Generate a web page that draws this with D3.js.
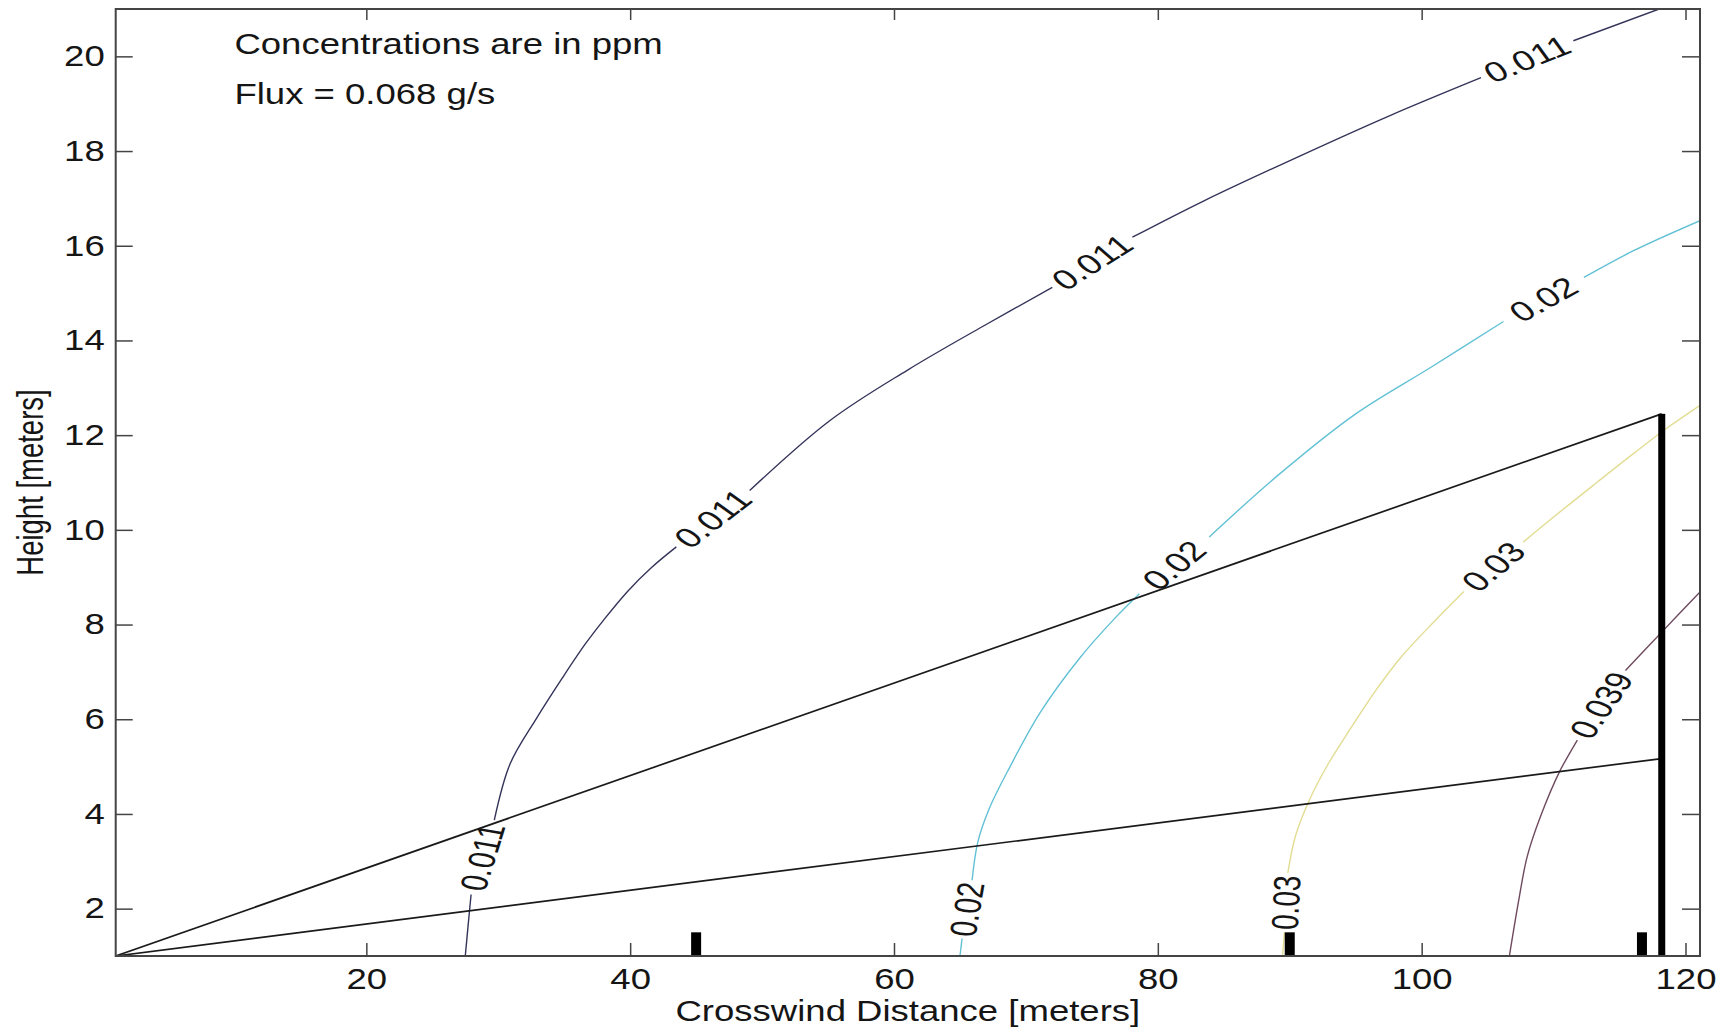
<!DOCTYPE html>
<html><head><meta charset="utf-8">
<script src="https://cdn.jsdelivr.net/npm/d3@7"></script>
<style>body{margin:0;background:#fff}svg{display:block}text{font-family:"Liberation Sans",Arial,Helvetica,sans-serif;fill:#151515}</style>
</head><body>
<svg id="chart" width="1727" height="1029"></svg>
<script>
// ---------- data ----------
const xTicks = [20, 40, 60, 80, 100, 120];
const yTicks = [2, 4, 6, 8, 10, 12, 14, 16, 18, 20];
const xDomain = [1, 121.1];
const yDomain = [1, 21];

const levels = ["0.011", "0.02", "0.03", "0.039"];
const levelColors = ["#34345a", "#62c1d5", "#e2dd92", "#6e4a5e"];

const contour011 = [[27.5,1.0],[27.7,1.6],[27.94,2.3],[29.7,3.87],[30.9,5.06],[32.9,6.02],[34.9,6.89],[36.6,7.59],[38.0,8.1],[39.8,8.7],[41.6,9.2],[43.5,9.64],[49.06,10.83],[55.15,12.31],[61.0,13.37],[66.75,14.3],[72.0,15.12],[78.07,16.18],[83.5,16.95],[90.8,17.9],[97.6,18.75],[104.5,19.55],[111.5,20.33],[118.0,21.0]];
const gaps011 = [2, 11, 16, 21];

const contour02 = [[65.0,1.0],[65.16,1.37],[65.92,2.6],[66.35,3.4],[67.2,4.1],[68.8,5.0],[71.1,6.15],[74.1,7.3],[76.7,8.12],[78.6,8.65],[83.9,9.85],[89.1,11.15],[95.0,12.45],[100.8,13.45],[106.2,14.4],[112.3,15.33],[116.1,15.9],[121.1,16.53]];
const gaps02 = [1, 9, 14];

const contour03 = [[89.45,1.0],[89.6,1.5],[89.85,2.75],[90.45,3.55],[91.5,4.3],[92.9,5.05],[94.6,5.8],[96.5,6.6],[98.4,7.3],[100.9,8.05],[103.2,8.7],[107.7,9.74],[110.0,10.27],[113.05,10.95],[116.1,11.62],[118.6,12.15],[121.1,12.63]];
const gaps03 = [1, 10];

const contour039 = [[106.65,1.0],[107.36,2.18],[108.0,3.1],[109.0,3.94],[110.5,4.92],[111.8,5.56],[115.45,7.03],[118.2,7.84],[121.1,8.69]];
const gaps039 = [5];

// sight lines from the source to the tower
const rayOrigin = [1, 1];
const rayEnds = [[118.2, 12.45], [118.2, 5.17]];
// tower and ground sensors
const towerX = 118.2, towerTop = 12.45;
const sensorX = [45, 90, 116.7];
const sensorTop = 1.5;

const notes = ["Concentrations are in ppm", "Flux = 0.068 g/s"];
const noteX = 10;
const noteY = [20.27, 19.21];
const xTitle = "Crosswind Distance [meters]";
const yTitle = "Height [meters]";

// ---------- layout ----------
const SX = 1.26;          // horizontal stretch of the original raster's lettering
const FS = 29;
const LSX = 1.35, LFS = 28;
const margin = {left: 115.7, right: 27, top: 9, bottom: 73};
const W = 1727, H = 1029;
const svg = d3.select("#chart");
const x = d3.scaleLinear().domain(xDomain).range([margin.left, W - margin.right]);
const y = d3.scaleLinear().domain(yDomain).range([H - margin.bottom, margin.top]);
const x0 = x.range()[0], x1 = x.range()[1], y0 = y.range()[0], y1 = y.range()[1];

svg.append("rect").attr("width", W).attr("height", H).attr("fill", "#fff");

svg.append("defs").append("clipPath").attr("id", "plotClip")
  .append("rect").attr("x", x0).attr("y", y1).attr("width", x1 - x0).attr("height", y0 - y1);

const plot = svg.append("g").attr("clip-path", "url(#plotClip)");

// contours
const contours = [
  {pts: contour011, gaps: gaps011, label: levels[0], color: levelColors[0]},
  {pts: contour02, gaps: gaps02, label: levels[1], color: levelColors[1]},
  {pts: contour03, gaps: gaps03, label: levels[2], color: levelColors[2]},
  {pts: contour039, gaps: gaps039, label: levels[3], color: levelColors[3]}
];
const line = d3.line().x(d => x(d[0])).y(d => y(d[1])).curve(d3.curveCatmullRom.alpha(0.5));

contours.forEach(c => {
  let start = 0;
  const pieces = [];
  c.gaps.forEach(g => { pieces.push(c.pts.slice(start, g + 1)); start = g + 1; });
  pieces.push(c.pts.slice(start));
  pieces.forEach(p => {
    if (p.length < 2) return;
    plot.append("path").attr("d", line(p)).attr("fill", "none")
      .attr("stroke", c.color).attr("stroke-width", 1.4);
  });
});

// rays
rayEnds.forEach(e => {
  plot.append("line")
    .attr("x1", x(rayOrigin[0])).attr("y1", y(rayOrigin[1]))
    .attr("x2", x(e[0])).attr("y2", y(e[1]))
    .attr("stroke", "#1a1a1a").attr("stroke-width", 1.7);
});

// tower
plot.append("rect")
  .attr("x", x(towerX) - 3.5).attr("y", y(towerTop))
  .attr("width", 7).attr("height", y(1) - y(towerTop)).attr("fill", "#000");

// sensors
plot.selectAll(".sensor").data(sensorX).join("rect").attr("class", "sensor")
  .attr("x", d => x(d) - 5).attr("y", y(sensorTop))
  .attr("width", 10).attr("height", y(1) - y(sensorTop)).attr("fill", "#000");

// contour labels
contours.forEach(c => {
  c.gaps.forEach(g => {
    const a = c.pts[g], b = c.pts[g + 1];
    const ax = x(a[0]), ay = y(a[1]), bx = x(b[0]), by = y(b[1]);
    const cx = (ax + bx) / 2, cy = (ay + by) / 2;
    const th = Math.atan2(by - ay, (bx - ax) / LSX) * 180 / Math.PI;
    svg.append("text")
      .attr("transform", `translate(${cx},${cy}) scale(${LSX},1) rotate(${th})`)
      .attr("text-anchor", "middle").attr("dominant-baseline", "central")
      .attr("font-size", LFS).text(c.label);
  });
});

// axes (MATLAB box with inward ticks)
const axisStyle = g => {
  g.select(".domain").remove();
  g.selectAll(".tick line").attr("stroke", "#444").attr("stroke-width", 1.5);
};
svg.append("g").attr("transform", `translate(0,${y0})`)
  .call(d3.axisBottom(x).tickValues(xTicks).tickSize(-13).tickPadding(12).tickFormat(d3.format("d")))
  .call(axisStyle)
  .call(g => g.selectAll(".tick text").attr("font-size", FS).attr("font-family", null)
    .attr("fill", "#151515").attr("transform", `scale(${SX},1)`).attr("x", 0));
svg.append("g").attr("transform", `translate(0,${y1})`)
  .call(d3.axisTop(x).tickValues(xTicks).tickSize(-11).tickFormat(""))
  .call(axisStyle);
svg.append("g").attr("transform", `translate(${x0},0)`)
  .call(d3.axisLeft(y).tickValues(yTicks).tickSize(-17).tickPadding(10).tickFormat(d3.format("d")))
  .call(axisStyle)
  .call(g => g.selectAll(".tick text").attr("font-size", FS).attr("font-family", null)
    .attr("fill", "#151515").attr("x", -11 / SX).attr("transform", `scale(${SX},1)`));
svg.append("g").attr("transform", `translate(${x1},0)`)
  .call(d3.axisRight(y).tickValues(yTicks).tickSize(-18).tickFormat(""))
  .call(axisStyle);

// box
svg.append("rect").attr("x", x0).attr("y", y1).attr("width", x1 - x0).attr("height", y0 - y1)
  .attr("fill", "none").attr("stroke", "#444").attr("stroke-width", 2);

// notes
notes.forEach((t, i) => {
  svg.append("text")
    .attr("transform", `translate(${x(noteX)},${y(noteY[i])}) scale(${SX},1)`)
    .attr("dominant-baseline", "central").attr("font-size", FS).text(t);
});

// axis titles
svg.append("text")
  .attr("transform", `translate(${(x0 + x1) / 2},${H - 18}) scale(${SX},1)`)
  .attr("text-anchor", "middle").attr("dominant-baseline", "central")
  .attr("font-size", FS).text(xTitle);
svg.append("text")
  .attr("transform", `translate(31,${(y0 + y1) / 2}) rotate(-90) scale(1,1.33)`)
  .attr("text-anchor", "middle").attr("dominant-baseline", "central")
  .attr("font-size", 27.5).text(yTitle);
</script>
</body></html>
